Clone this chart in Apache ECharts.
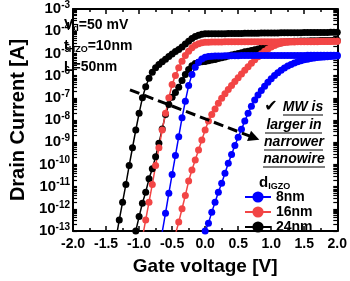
<!DOCTYPE html>
<html>
<head>
<meta charset="utf-8">
<script src="https://cdn.jsdelivr.net/npm/echarts@6/dist/echarts.min.js"></script>
<style>html,body{margin:0;padding:0;background:#fff}#c{width:350px;height:281px}</style>
</head>
<body>
<div id="c"></div>
<script>
// Gate voltage sweep points [V]
var gateV = [-1.35,-1.30,-1.25,-1.20,-1.15,-1.10,-1.05,-1.00,-0.95,-0.90,-0.85,-0.80,-0.75,-0.70,-0.65,-0.60,-0.55,-0.50,-0.45,-0.40,
  -0.35,-0.30,-0.25,-0.20,-0.15,-0.10,-0.05,0.00,0.05,0.10,0.15,0.20,0.25,0.30,0.35,0.40,0.45,0.50,0.55,0.60,
  0.65,0.70,0.75,0.80,0.85,0.90,0.95,1.00,1.05,1.10,1.15,1.20,1.25,1.30,1.35,1.40,1.45,1.50,1.55,1.60,
  1.65,1.70,1.75,1.80,1.85,1.90,1.95,2.00];
// Drain current, log10(I [A]); each array is aligned with the LAST values of gateV
var d24Left = [-13.35,-12.5,-11.7,-10.9,-10.05,-9.25,-8.45,-7.7,-7.0,-6.5,-6.12,-5.85,-5.65,-5.5,-5.38,-5.26,-5.14,-5.03,-4.92,-4.82,
  -4.71,-4.58,-4.45,-4.33,-4.24,-4.18,-4.14,-4.12,
  -4.12,-4.12,-4.11,-4.11,-4.11,-4.11,-4.10,-4.10,-4.10,-4.10,-4.10,-4.09,-4.09,-4.09,-4.09,-4.09,-4.08,-4.08,-4.08,-4.08,
  -4.08,-4.08,-4.07,-4.07,-4.07,-4.07,-4.07,-4.07,-4.07,-4.06,-4.06,-4.06,-4.06,-4.06,-4.06,-4.06,-4.06,-4.05,-4.05,-4.05];
var d24Right = [-13.0,-12.35,-11.75,-11.25,-10.65,-10.2,-9.65,-9.05,-8.4,-7.75,-7.3,-6.98,-6.76,-6.52,-6.22,-5.95,-5.72,-5.56,-5.46,-5.4,
  -5.38,-5.36,-5.33,-5.3,-5.27,-5.23,-5.2,-5.16,-5.12,-5.07,-5.04,-5.0,-4.97,-4.93,-4.9,-4.87,-4.83,-4.8,-4.76,-4.72,
  -4.68,-4.64,-4.6,-4.56,-4.52,-4.49,-4.47,-4.46,-4.45,-4.45,-4.44,-4.44,-4.44,-4.43,-4.43,-4.43,-4.42,-4.42,-4.42,-4.42,
  -4.41,-4.41];
var d16Left = [-13.3,-12.5,-11.7,-10.9,-10.05,-9.25,-8.45,-7.7,-7.0,-6.4,-6.0,-5.65,-5.35,-5.1,-4.9,-4.74,-4.63,-4.56,-4.52,-4.5,
  -4.5,-4.49,-4.49,-4.49,-4.49,-4.48,-4.48,-4.48,-4.48,-4.48,-4.48,-4.48,-4.47,-4.47,-4.47,-4.47,-4.47,-4.47,-4.47,-4.47,
  -4.47,-4.47,-4.46,-4.46,-4.46,-4.46,-4.46,-4.46,-4.46,-4.46,-4.46,-4.46,-4.46,-4.45,-4.45,-4.45,-4.45,-4.45,-4.45,-4.45];
var d16Right = [-13.15,-12.6,-12.0,-11.4,-10.75,-10.25,-9.8,-9.35,-8.9,-8.45,-8.05,-7.75,-7.5,-7.25,-7.02,-6.82,-6.63,-6.45,-6.27,-6.1,
  -5.93,-5.76,-5.6,-5.44,-5.29,-5.15,-5.02,-4.9,-4.8,-4.71,-4.64,-4.58,-4.54,-4.51,-4.5,-4.49,-4.49,-4.48,-4.48,-4.48,
  -4.47,-4.47,-4.47,-4.47,-4.46,-4.46,-4.46,-4.46,-4.45,-4.45];
var d8Left = [-13.05,-12.2,-11.3,-10.45,-9.6,-8.75,-7.9,-7.15,-6.45,-5.95,-5.62,-5.4,-5.25,-5.17,
  -5.14,-5.13,-5.12,-5.12,-5.12,-5.11,-5.11,-5.11,-5.11,-5.11,-5.10,-5.10,-5.10,-5.10,-5.10,-5.10,-5.10,-5.10,-5.10,-5.10,
  -5.09,-5.09,-5.09,-5.09,-5.09,-5.09,-5.09,-5.09,-5.09,-5.09,-5.08,-5.08,-5.08,-5.08,-5.08,-5.08,-5.08,-5.08,-5.08,-5.08];
var d8Right = [-13.0,-12.65,-12.15,-11.7,-11.25,-10.85,-10.4,-9.95,-9.55,-9.15,-8.78,-8.42,-8.05,-7.7,-7.38,-7.1,-6.87,-6.67,-6.48,-6.3,
  -6.14,-6.0,-5.87,-5.76,-5.66,-5.57,-5.5,-5.43,-5.38,-5.33,-5.29,-5.26,-5.23,-5.21,-5.19,-5.17,-5.16,-5.15,-5.14,-5.13,-5.12];
var legendNames = ['8nm','16nm','24nm'];
var colors = {'8nm':'#0000ff','16nm':'#f24545','24nm':'#000000'};
var yDecades = [-13,-12,-11,-10,-9,-8,-7,-6,-5,-4,-3];
// MW arrow (gate voltage, log10 I)
var arrowStart = [-1.138, -6.64];
var arrowEnd = [0.742, -8.80];

function pair(curr){ var off = gateV.length - curr.length; return curr.map(function(c,i){ return [gateV[off+i], c]; }); }

var tickVals = yDecades.slice();
for (var d = -13; d < -3; d++) { for (var k = 2; k <= 9; k++) tickVals.push(d + Math.log10(k)); }

var FONT = 'Liberation Sans, Arial, sans-serif';
function mkSeries(name, arr, extra){
  var s = {type:'line', name:name, data:pair(arr), symbol:'circle', symbolSize:7, showAllSymbol:true,
    itemStyle:{color:colors[name]}, lineStyle:{color:colors[name], width:1.5}, emphasis:{disabled:true}, clip:true, z:2};
  if (extra) for (var kk in extra) s[kk] = extra[kk];
  return s;
}

var chart = echarts.init(document.getElementById('c'), null, {renderer:'canvas'});
var axisLineS = {show:true, onZero:false, lineStyle:{color:'#000', width:2}};
chart.setOption({
  animation:false,
  backgroundColor:'#fff',
  grid:{left:56, right:11, top:9, bottom:44},
  xAxis:[
    {type:'value', min:-2, max:2, interval:0.5, position:'bottom',
     axisLine:axisLineS, axisTick:{inside:true, length:5, lineStyle:{width:1.5,color:'#000'}},
     minorTick:{show:true, splitNumber:2, length:3, lineStyle:{width:1.5,color:'#000'}},
     splitLine:{show:false},
     axisLabel:{margin:6, color:'#000', fontFamily:FONT, fontWeight:'bold', fontSize:14, formatter:function(v){return v.toFixed(1);}},
     name:'Gate voltage [V]', nameLocation:'middle', nameGap:26,
     nameTextStyle:{color:'#000', fontFamily:FONT, fontWeight:'bold', fontSize:19}},
    {type:'value', min:-2, max:2, interval:0.5, position:'top',
     axisLine:axisLineS, axisTick:{inside:true, length:5, lineStyle:{width:1.5,color:'#000'}},
     minorTick:{show:true, splitNumber:2, length:3, lineStyle:{width:1.5,color:'#000'}},
     splitLine:{show:false}, axisLabel:{show:false}}
  ],
  yAxis:[
    {type:'value', min:-13, max:-3, interval:1, position:'left',
     axisLine:axisLineS, axisTick:{inside:true, length:4, customValues:tickVals, lineStyle:{width:1.2,color:'#000'}},
     splitLine:{show:false},
     axisLabel:{margin:3, color:'#000', customValues:yDecades, formatter:function(v){return '{b|10}{s|'+Math.round(v)+'}';},
       rich:{b:{fontFamily:FONT, fontWeight:'bold', fontSize:15, lineHeight:18},
             s:{fontFamily:FONT, fontWeight:'bold', fontSize:10, lineHeight:12, verticalAlign:'top'}}},
     name:'Drain Current [A]', nameLocation:'middle', nameGap:44,
     nameTextStyle:{color:'#000', fontFamily:FONT, fontWeight:'bold', fontSize:20}},
    {type:'value', min:-13, max:-3, interval:1, position:'right',
     axisLine:axisLineS, axisTick:{inside:true, length:4, customValues:tickVals, lineStyle:{width:1.2,color:'#000'}},
     splitLine:{show:false}, axisLabel:{show:false}}
  ],
  legend:{data:legendNames, orient:'vertical', left:244, top:190, itemWidth:26, itemHeight:14, itemGap:1, padding:0,
    textStyle:{color:'#000', fontFamily:FONT, fontWeight:'bold', fontSize:14}},
  series:[
    mkSeries('24nm', d24Left),
    mkSeries('24nm', d24Right),
    mkSeries('16nm', d16Right),
    mkSeries('16nm', d16Left),
    mkSeries('8nm', d8Left),
    mkSeries('8nm', d8Right, {markLine:{silent:true, symbol:['none','triangle'], symbolSize:[11,11],
      label:{show:false}, lineStyle:{color:'#000', width:3, type:[10,5]},
      data:[[{coord:arrowStart},{coord:arrowEnd}]]}})
  ],
  graphic:[
    {type:'text', left:64, top:18, style:{text:'{m|V}{u|d}{m|=50 mV}', fill:'#000',
      rich:{m:{fontFamily:FONT, fontWeight:'bold', fontSize:14, lineHeight:17}, u:{fontFamily:FONT, fontWeight:'bold', fontSize:9, lineHeight:11, verticalAlign:'bottom'}}}},
    {type:'text', left:64, top:39, style:{text:'{m|t}{u|HZO}{m|=10nm}', fill:'#000',
      rich:{m:{fontFamily:FONT, fontWeight:'bold', fontSize:14, lineHeight:17}, u:{fontFamily:FONT, fontWeight:'bold', fontSize:9, lineHeight:11, verticalAlign:'bottom'}}}},
    {type:'text', left:64, top:60, style:{text:'L=50nm', fill:'#000', font:'bold 14px '+FONT}},
    {type:'text', x:259, y:174, style:{text:'{m|d}{u|IGZO}', fill:'#000',
      rich:{m:{fontFamily:FONT, fontWeight:'bold', fontSize:15, lineHeight:17}, u:{fontFamily:FONT, fontWeight:'bold', fontSize:9, lineHeight:11, verticalAlign:'bottom'}}}},
    {type:'text', x:271, y:107, style:{text:'\u2714', fill:'#000', font:'bold 16px DejaVu Sans', textAlign:'center', textVerticalAlign:'middle'}},
    {type:'text', x:303, y:107, style:{text:'MW is', fill:'#000', font:'italic bold 14px '+FONT, textAlign:'center', textVerticalAlign:'middle'}},
    {type:'text', x:294, y:125, style:{text:'larger in', fill:'#000', font:'italic bold 14px '+FONT, textAlign:'center', textVerticalAlign:'middle'}},
    {type:'text', x:294, y:142, style:{text:'narrower', fill:'#000', font:'italic bold 14px '+FONT, textAlign:'center', textVerticalAlign:'middle'}},
    {type:'text', x:294, y:159, style:{text:'nanowire', fill:'#000', font:'italic bold 14px '+FONT, textAlign:'center', textVerticalAlign:'middle'}},
    {type:'line', shape:{x1:283, y1:115, x2:323, y2:115}, style:{stroke:'#000', lineWidth:1.2}},
    {type:'line', shape:{x1:265, y1:133, x2:322, y2:133}, style:{stroke:'#000', lineWidth:1.2}},
    {type:'line', shape:{x1:264, y1:150, x2:323, y2:150}, style:{stroke:'#000', lineWidth:1.2}},
    {type:'line', shape:{x1:263, y1:167, x2:325, y2:167}, style:{stroke:'#000', lineWidth:1.2}}
  ]
});
</script>
</body>
</html>
